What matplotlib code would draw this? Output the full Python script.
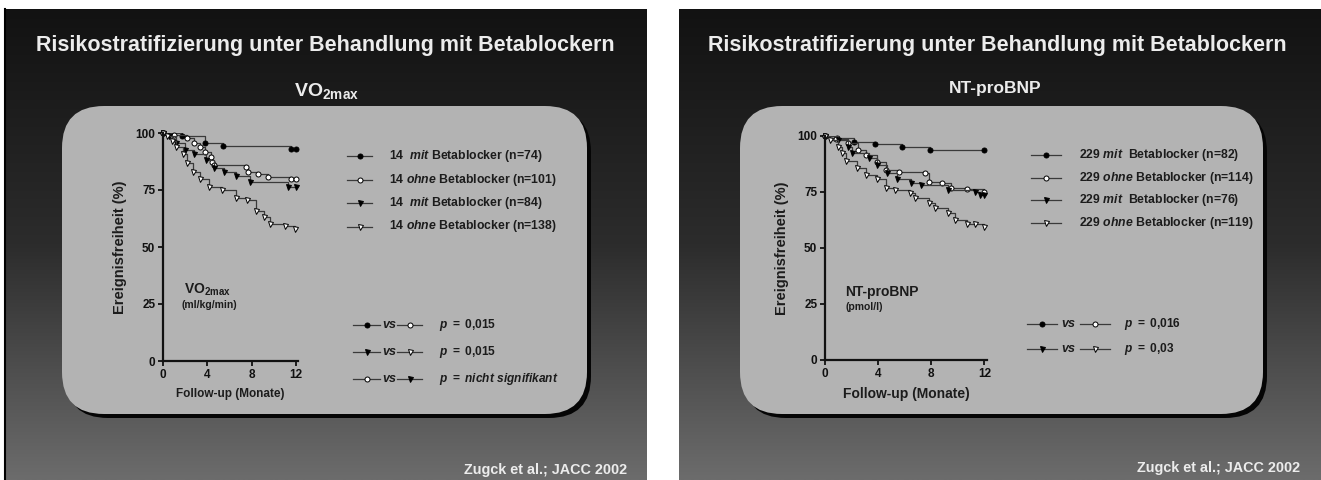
import numpy as np
import matplotlib
matplotlib.use("Agg")
import matplotlib.pyplot as plt
from matplotlib.patches import FancyBboxPatch
from matplotlib.colors import LinearSegmentedColormap

plt.rcParams['font.family'] = ['Liberation Sans', 'DejaVu Sans']
plt.rcParams['font.weight'] = 'bold'
plt.rcParams['axes.labelweight'] = 'bold'
plt.rcParams['mathtext.fontset'] = 'custom'
plt.rcParams['mathtext.rm'] = 'Liberation Sans:bold'
plt.rcParams['mathtext.it'] = 'Liberation Sans:italic:bold'
plt.rcParams['mathtext.bf'] = 'Liberation Sans:bold'

# ---- data (months, % event free) ----
vo_mit74_t = [0, 1.7, 3.8, 5.4, 11.6, 12]
vo_mit74_s = [100, 98.7, 95.6, 94.3, 93.0, 93.0]
vo_ohne101_t = [0, 1.0, 2.2, 2.8, 3.3, 3.8, 4.3, 4.4, 4.6, 7.5, 7.7, 8.6, 9.5, 11.6, 12]
vo_ohne101_s = [100, 99.2, 97.8, 95.6, 94.0, 91.7, 89.5, 87.3, 86.0, 85.0, 83.0, 82.0, 80.7, 79.8, 79.8]
vo_mit84_t = [0, 0.5, 1.2, 2.0, 2.8, 3.9, 4.6, 5.5, 6.6, 7.9, 11.3, 12]
vo_mit84_s = [100, 98.5, 95.5, 92.5, 91.0, 88.0, 84.6, 83.0, 81.0, 78.5, 76.3, 76.3]
vo_ohne138_t = [0, 0.4, 0.8, 1.2, 1.8, 2.2, 2.7, 3.3, 4.2, 5.3, 6.6, 7.6, 8.4, 9.1, 9.7, 11.0, 11.9]
vo_ohne138_s = [100, 98.5, 96.5, 94.0, 91.0, 87.0, 83.0, 80.0, 76.5, 75.0, 71.5, 70.6, 66.0, 63.0, 60.0, 59.0, 58.0]

bnp_mit82_t = [0, 0.9, 2.2, 3.8, 5.8, 7.9, 12]
bnp_mit82_s = [100, 99.0, 97.3, 96.4, 95.0, 93.8, 93.8]
bnp_ohne114_t = [0, 0.8, 1.7, 2.5, 3.1, 3.9, 4.6, 5.6, 7.5, 7.8, 8.8, 9.5, 10.7, 12]
bnp_ohne114_s = [100, 98.8, 97.0, 93.8, 91.5, 88.4, 84.8, 84.0, 83.5, 79.5, 79.0, 76.8, 76.3, 75.0]
bnp_mit76_t = [0, 1.0, 1.7, 2.0, 3.3, 3.9, 4.7, 5.4, 6.5, 7.2, 9.3, 11.3, 11.7, 12]
bnp_mit76_s = [100, 98.0, 95.0, 92.4, 90.0, 87.0, 83.5, 81.0, 79.0, 78.0, 76.0, 75.0, 73.7, 73.7]
bnp_ohne119_t = [0, 0.4, 1.0, 1.3, 1.6, 2.4, 3.1, 3.9, 4.6, 5.3, 6.4, 6.8, 7.8, 8.3, 9.3, 9.8, 10.7, 11.3, 12]
bnp_ohne119_s = [100, 98.0, 95.0, 92.4, 89.0, 85.7, 82.6, 81.0, 77.0, 76.0, 74.6, 72.3, 70.0, 67.9, 65.6, 62.5, 60.7, 60.7, 59.4]

vo_labels = [r"14  $\mathit{mit}$ Betablocker (n=74)",
             r"14 $\mathit{ohne}$ Betablocker (n=101)",
             r"14  $\mathit{mit}$ Betablocker (n=84)",
             r"14 $\mathit{ohne}$ Betablocker (n=138)"]
bnp_labels = [r"229 $\mathit{mit}$  Betablocker (n=82)",
              r"229 $\mathit{ohne}$ Betablocker (n=114)",
              r"229 $\mathit{mit}$  Betablocker (n=76)",
              r"229 $\mathit{ohne}$ Betablocker (n=119)"]
vo_pvals = [r"$\mathit{p\ =\ 0{,}015}$", r"$\mathit{p\ =\ 0{,}015}$", r"$\mathit{p\ =\ nicht\ signifikant}$"]
bnp_pvals = [r"$\mathit{p\ =\ 0{,}016}$", r"$\mathit{p\ =\ 0{,}03}$"]
vo_pairs = [(0, 1), (2, 3), (1, 2)]
bnp_pairs = [(0, 1), (2, 3)]

title = "Risikostratifizierung unter Behandlung mit Betablockern"
citation = "Zugck et al.; JACC 2002"

# marker styles for the four groups
styles = [dict(marker='o', mfc='black'), dict(marker='o', mfc='white'),
          dict(marker='v', mfc='black'), dict(marker='v', mfc='white')]
line_col = '#3a3a3a'
txt_dark = '#1c1c1c'
txt_light = '#ececec'
ms = 3.6

W, H = 1321, 480
fig = plt.figure(figsize=(W / 100, H / 100), dpi=100, facecolor='white')
bg = fig.add_axes([0, 0, 1, 1])
bg.axis('off')

cmap = LinearSegmentedColormap.from_list('slide', ['#121212', '#2c2c2c', '#6c6c6c'])
grad = np.linspace(0, 1, 256)[:, None]
slides = [(5, 647), (679, W)]
for x0, x1 in slides:
    bg.imshow(grad, cmap=cmap, extent=(x0, x1, H, 9), aspect='auto', origin='upper', zorder=0)
bg.plot([5, 5], [9, H], color='black', lw=1.5, zorder=1)

boxes = [(62, 106, 525, 308), (740, 106, 523, 308)]
for (bx, by, bw, bh) in boxes:
    bg.add_patch(FancyBboxPatch((bx + 4, by + 4), bw, bh, boxstyle="round,pad=0,rounding_size=42",
                                fc='#050505', ec='none', zorder=2))
    bg.add_patch(FancyBboxPatch((bx, by), bw, bh, boxstyle="round,pad=0,rounding_size=42",
                                fc='#b3b3b3', ec='none', zorder=3))
bg.set_xlim(0, W)
bg.set_ylim(H, 0)

# titles, subtitles, citations
for cx in (325, 997):
    bg.text(cx, 45, title, color=txt_light, fontsize=15.5, ha='center', va='center', zorder=5)
bg.text(327, 91, r"VO$_{\mathrm{2max}}$", color=txt_light, fontsize=14, ha='center', va='center', zorder=5)
bg.text(995, 88, "NT-proBNP", color=txt_light, fontsize=12.5, ha='center', va='center', zorder=5)
bg.text(627, 470, citation, color=txt_light, fontsize=10.4, ha='right', va='center', zorder=5)
bg.text(1300, 468, citation, color=txt_light, fontsize=10.4, ha='right', va='center', zorder=5)

# inner labels
bg.text(184, 290, r"VO$_{\mathrm{2max}}$", color=txt_dark, fontsize=10, ha='left', va='center', zorder=5)
bg.text(182, 305, "(ml/kg/min)", color=txt_dark, fontsize=7.5, ha='left', va='center', zorder=5)
bg.text(845, 292, "NT-proBNP", color=txt_dark, fontsize=10, ha='left', va='center', zorder=5)
bg.text(845, 307, "(pmol/l)", color=txt_dark, fontsize=7.5, ha='left', va='center', zorder=5)


def km_axes(px0, px1, py_top, py_bot, series, xlab_fs, ylab_fs):
    ax = fig.add_axes([px0 / W, (H - py_bot) / H, (px1 - px0) / W, (py_bot - py_top) / H])
    ax.set_facecolor('none')
    for (t, s), st in zip(series, styles):
        ax.plot(t, s, drawstyle='steps-post', color=line_col, lw=0.9)
        ax.plot(t, s, ls='none', marker=st['marker'], mfc=st['mfc'], mec='black',
                mew=0.7, ms=ms, clip_on=False)
    ax.set_xlim(0, 12.2)
    ax.set_ylim(0, 100)
    ax.set_xticks([0, 4, 8, 12])
    ax.set_yticks([0, 25, 50, 75, 100])
    for sp in ('top', 'right'):
        ax.spines[sp].set_visible(False)
    for sp in ('left', 'bottom'):
        ax.spines[sp].set_linewidth(1.6)
        ax.spines[sp].set_color('#111111')
    ax.tick_params(direction='out', length=3.5, width=1.3, labelsize=8.5, colors='#111111', pad=2)
    for lb in ax.get_xticklabels() + ax.get_yticklabels():
        lb.set_fontweight('bold')
    ax.set_xlabel("Follow-up (Monate)", fontsize=xlab_fs, color=txt_dark, labelpad=5)
    ax.set_ylabel("Ereignisfreiheit (%)", fontsize=ylab_fs, color=txt_dark, labelpad=6)
    return ax


km_axes(163, 298, 133, 361,
        [(vo_mit74_t, vo_mit74_s), (vo_ohne101_t, vo_ohne101_s),
         (vo_mit84_t, vo_mit84_s), (vo_ohne138_t, vo_ohne138_s)], 8.5, 10.5)
km_axes(825, 987, 136, 360,
        [(bnp_mit82_t, bnp_mit82_s), (bnp_ohne114_t, bnp_ohne114_s),
         (bnp_mit76_t, bnp_mit76_s), (bnp_ohne119_t, bnp_ohne119_s)], 10, 10.5)


def glyph(x0, x1, y, st):
    bg.plot([x0, x1], [y, y], color=line_col, lw=0.9, zorder=6)
    bg.plot([(x0 + x1) / 2], [y], ls='none', marker=st['marker'], mfc=st['mfc'], mec='black',
            mew=0.7, ms=ms, zorder=7)


# legends
for i, lab in enumerate(vo_labels):
    y = 156 + i * 23.5
    glyph(347, 372, y, styles[i])
    bg.text(389, y, lab, color=txt_dark, fontsize=8.8, ha='left', va='center', zorder=6)
for i, lab in enumerate(bnp_labels):
    y = 155 + i * 22.7
    glyph(1031, 1061, y, styles[i])
    bg.text(1079, y, lab, color=txt_dark, fontsize=8.8, ha='left', va='center', zorder=6)

# p-value comparisons
for i, (pv, (a, b)) in enumerate(zip(vo_pvals, vo_pairs)):
    y = 325 + i * 27
    glyph(353, 380, y, styles[a])
    bg.text(382, y, r"$\mathit{vs}$", color=txt_dark, fontsize=9, ha='left', va='center', zorder=6)
    glyph(397, 422, y, styles[b])
    bg.text(439, y, pv, color=txt_dark, fontsize=8.6, ha='left', va='center', zorder=6)
for i, (pv, (a, b)) in enumerate(zip(bnp_pvals, bnp_pairs)):
    y = 324 + i * 25
    glyph(1027, 1057, y, styles[a])
    bg.text(1061, y, r"$\mathit{vs}$", color=txt_dark, fontsize=9, ha='left', va='center', zorder=6)
    glyph(1080, 1110, y, styles[b])
    bg.text(1124, y, pv, color=txt_dark, fontsize=8.6, ha='left', va='center', zorder=6)

fig.savefig("out.png", dpi=100, facecolor='white')
